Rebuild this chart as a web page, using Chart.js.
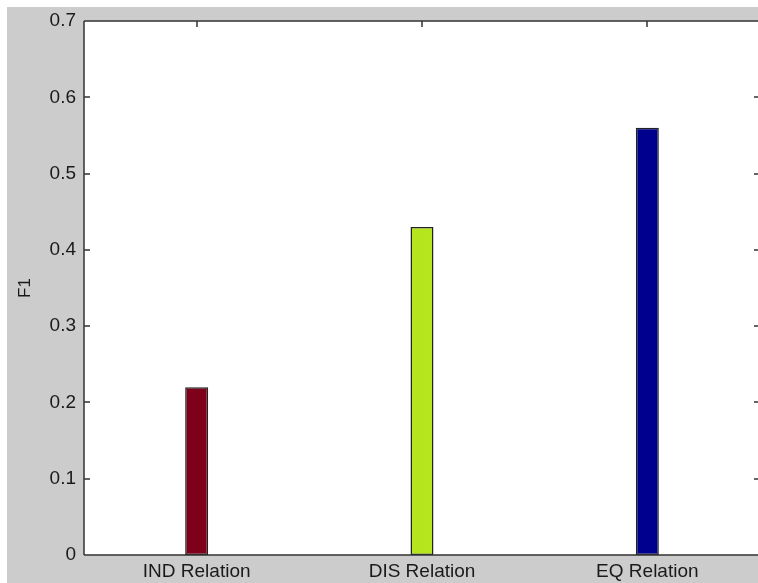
<!DOCTYPE html>
<html>
<head>
<meta charset="utf-8">
<script src="https://cdn.jsdelivr.net/npm/chart.js@4/dist/chart.umd.min.js"></script>
<style>
  html, body { margin: 0; padding: 0; background: #fff; overflow: hidden; }
  #wrap { width: 760px; height: 583px; }
</style>
</head>
<body>
<div id="wrap"><canvas id="chart" width="760" height="583"></canvas></div>
<script>
// Data
const categories = ['IND Relation', 'DIS Relation', 'EQ Relation'];
const f1Values = [0.22, 0.43, 0.56];
const barColors = ['#7f0019', '#b5e61d', '#00008f'];
const yTicks = [0, 0.1, 0.2, 0.3, 0.4, 0.5, 0.6, 0.7];

const textColor = '#1a1a1a';
const axisColor = '#333';

// Gray figure background, white axes area, box lines and inner ticks
const framePlugin = {
  id: 'frame',
  beforeDraw(chart) {
    const ctx = chart.ctx;
    const a = chart.chartArea;
    ctx.save();
    ctx.fillStyle = '#fff';
    ctx.fillRect(0, 0, chart.width, chart.height);
    ctx.fillStyle = '#cccccc';
    ctx.fillRect(7, 7, chart.width - 7, chart.height - 7);
    ctx.fillStyle = '#fff';
    ctx.fillRect(a.left, a.top, a.right - a.left, a.bottom - a.top);
    ctx.restore();
  },
  afterDraw(chart) {
    const ctx = chart.ctx;
    const a = chart.chartArea;
    const y = chart.scales.y;
    const x = chart.scales.x;
    ctx.save();
    ctx.strokeStyle = axisColor;
    ctx.lineWidth = 1.5;
    ctx.beginPath();
    ctx.moveTo(a.left, a.top);
    ctx.lineTo(a.right, a.top);
    ctx.moveTo(a.left, a.top);
    ctx.lineTo(a.left, a.bottom);
    ctx.moveTo(a.left, a.bottom);
    ctx.lineTo(a.right, a.bottom);
    ctx.moveTo(a.right, a.top);
    ctx.lineTo(a.right, a.bottom);
    // y ticks on both sides
    yTicks.forEach(v => {
      const py = Math.round(y.getPixelForValue(v));
      ctx.moveTo(a.left, py);
      ctx.lineTo(a.left + 6, py);
      ctx.moveTo(a.right, py);
      ctx.lineTo(a.right - 6, py);
    });
    // x ticks on top
    categories.forEach((c, i) => {
      const px = Math.round(x.getPixelForValue(i));
      ctx.moveTo(px, a.top);
      ctx.lineTo(px, a.top + 6);
    });
    ctx.stroke();
    ctx.restore();
  }
};

new Chart(document.getElementById('chart'), {
  type: 'bar',
  data: {
    labels: categories,
    datasets: [{
      label: 'F1',
      data: f1Values,
      backgroundColor: barColors,
      borderColor: '#222',
      borderWidth: 1.5,
      borderSkipped: false,
      barPercentage: 0.102,
      categoryPercentage: 1
    }]
  },
  options: {
    responsive: false,
    animation: false,
    devicePixelRatio: 1,
    layout: { padding: { top: 21, right: 0, left: 0, bottom: 0 } },
    plugins: {
      legend: { display: false },
      tooltip: { enabled: false }
    },
    scales: {
      x: {
        grid: { display: false, drawTicks: false },
        border: { display: false },
        ticks: {
          color: textColor,
          font: { family: 'Liberation Sans, Arial, sans-serif', size: 19 },
          padding: 5,
          maxRotation: 0
        },
        afterFit(s) { s.height = 28; }
      },
      y: {
        min: 0,
        max: 0.7,
        grid: { display: false, drawTicks: false },
        border: { display: false },
        ticks: {
          stepSize: 0.1,
          color: textColor,
          font: { family: 'Liberation Sans, Arial, sans-serif', size: 19 },
          padding: 8,
          callback: v => String(Math.round(v * 10) / 10)
        },
        title: {
          display: true,
          text: 'F1',
          color: textColor,
          font: { family: 'Liberation Sans, Arial, sans-serif', size: 17 },
          padding: { top: 15, bottom: 0 }
        },
        afterFit(s) { s.width = 84; }
      }
    }
  },
  plugins: [framePlugin]
});
</script>
</body>
</html>
